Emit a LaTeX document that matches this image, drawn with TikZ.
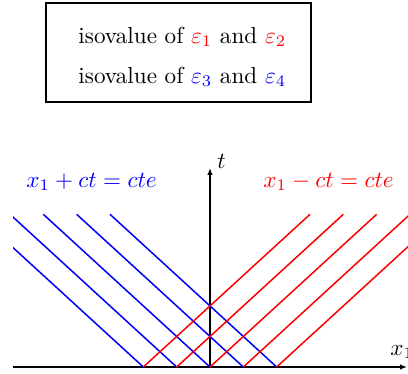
\documentclass[tikz,border=0pt]{standalone}
\usetikzlibrary{arrows.meta}
\begin{document}
\begin{tikzpicture}[x=0.432pt,y=-0.432pt]
\tikzset{
  blueline/.style={blue, line width=0.65pt},
  redline/.style={red, line width=0.65pt},
  axisline/.style={black, line width=0.65pt, -{Latex[length=3pt,width=2.4pt]}},
  lbl/.style={anchor=base west, inner sep=0pt},
  legendbox/.style={draw, line width=0.7pt, anchor=north west, inner sep=0pt,
    minimum width=114.5pt, minimum height=42.8pt},
}
\useasboundingbox (0,0) rectangle (408,373);
% legend
\node[legendbox] (legend) at (45,2) {};
\node[lbl] (l1) at (78,43) {isovalue of $\color{red}\varepsilon_1$ and $\color{red}\varepsilon_2$};
\node[lbl] (l2) at (78,83) {isovalue of $\color{blue}\varepsilon_3$ and $\color{blue}\varepsilon_4$};
% axes
\coordinate (xstart) at (13,367);
\coordinate (xend) at (407,367);
\coordinate (O) at (210,367);
\coordinate (tend) at (210,168);
\draw[axisline] (xstart) -- (xend);
\draw[axisline] (O) -- (tend);
\node[lbl] (tlab) at (217,168) {$t$};
\node[lbl] (xlab) at (390,355) {$x_1$};
% characteristic lines
\begin{scope}
\clip (13,0) rectangle (408,373);
\foreach \k in {-2,...,2} {
  \draw[blueline] (210+33.333*\k,367) -- ++(-166.67,-152.7);
}
\foreach \k in {-2,...,2} {
  \draw[redline] (210+33.333*\k,367) -- ++(166.67,-152.7);
}
\end{scope}
\node[lbl, blue] (bluelab) at (26,187) {$x_1+ct=cte$};
\node[lbl, red] (redlab) at (263,187) {$x_1-ct=cte$};
\end{tikzpicture}
\end{document}
